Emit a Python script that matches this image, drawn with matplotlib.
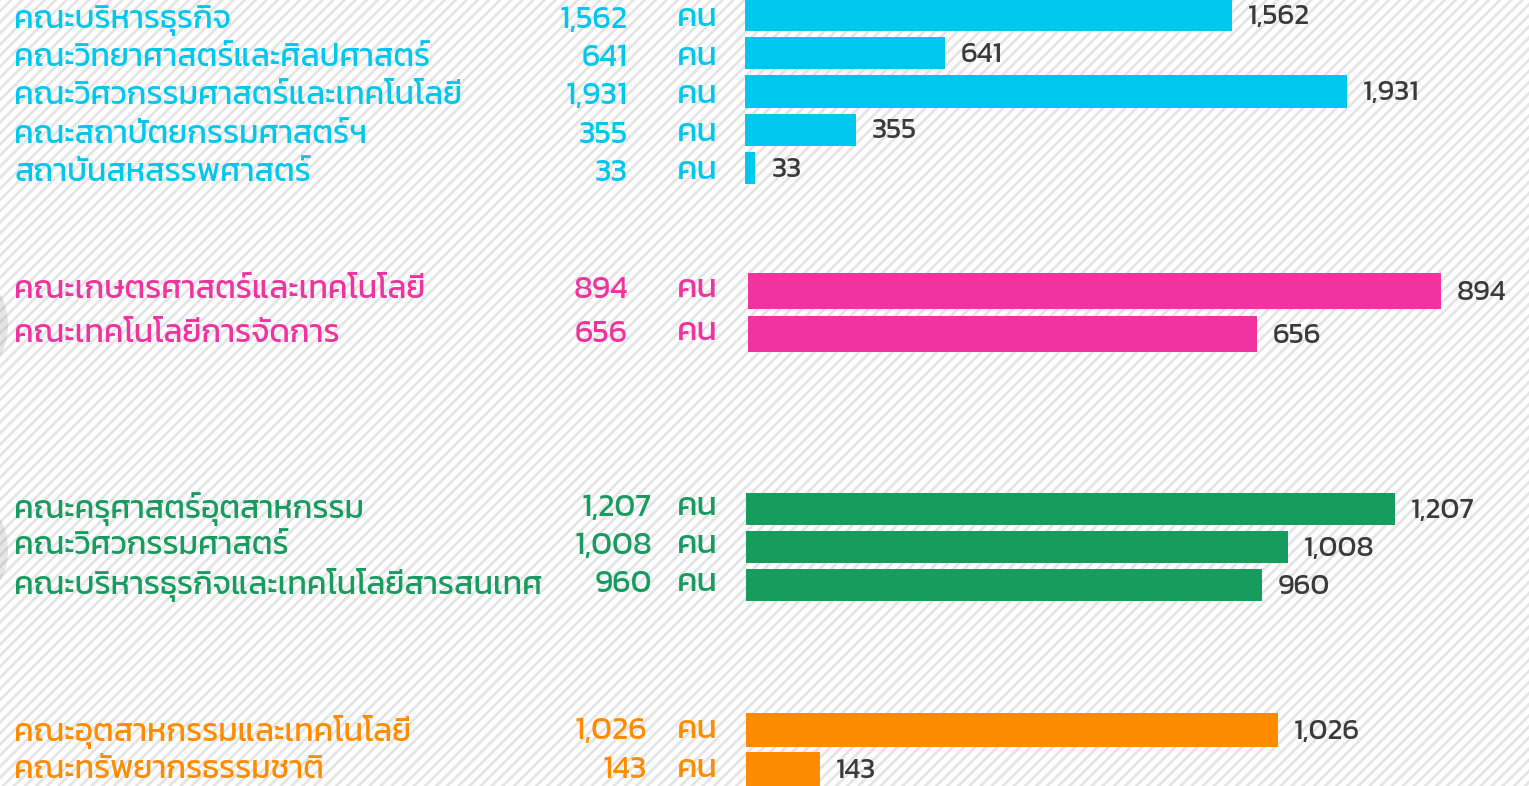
import matplotlib
matplotlib.use('Agg')
import matplotlib.pyplot as plt
import matplotlib.transforms as mtransforms
from matplotlib.patches import Rectangle, Ellipse

plt.rcParams['font.family'] = ['Kanit', 'Noto Sans Thai', 'DejaVu Sans']
plt.rcParams['hatch.linewidth'] = 2.0

# data: four faculty groups, each drawn on its own scale
names_1 = ['คณะบริหารธุรกิจ', 'คณะวิทยาศาสตร์และศิลปศาสตร์', 'คณะวิศวกรรมศาสตร์และเทคโนโลยี',
           'คณะสถาปัตยกรรมศาสตร์ฯ', 'สถาบันสหสรรพศาสตร์']
values_1 = [1562, 641, 1931, 355, 33]
names_2 = ['คณะเกษตรศาสตร์และเทคโนโลยี', 'คณะเทคโนโลยีการจัดการ']
values_2 = [894, 656]
names_3 = ['คณะครุศาสตร์อุตสาหกรรม', 'คณะวิศวกรรมศาสตร์', 'คณะบริหารธุรกิจและเทคโนโลยีสารสนเทศ']
values_3 = [1207, 1008, 960]
names_4 = ['คณะอุตสาหกรรมและเทคโนโลยี', 'คณะทรัพยากรธรรมชาติ']
values_4 = [1026, 143]
unit = 'คน'

W, H = 1529, 786
fig = plt.figure(figsize=(W / 100, H / 100), dpi=100)
fig.patch.set_facecolor('white')

# hatched background
bg = Rectangle((0, 0), 1, 1, transform=fig.transFigure, facecolor='white',
               edgecolor='#e4e4e4', hatch='///', linewidth=0, zorder=-10)
fig.patches.append(bg)
# faint shadows at the left edge
for cy in (325, 550):
    fig.patches.append(Ellipse((-14 / W, 1 - cy / H), 44 / W, 80 / H, transform=fig.transFigure,
                               facecolor='#9a9a9a', alpha=0.25, linewidth=0, zorder=-9))

# (names, values, colour, top px, row spacing px, bar start px, px per unit, bar height, number right edge px, text shift)
groups = [
    (names_1, values_1, '#00c8ec', 15, 38.25, 745, 602 / 1931, 0.84, 628, 0.14),
    (names_2, values_2, '#f0339f', 291, 43, 748, 693 / 894, 0.86, 628, 0.0),
    (names_3, values_3, '#189b5e', 509, 38, 746, 649 / 1207, 0.84, 652, 0.0),
    (names_4, values_4, '#ff8c00', 730, 39, 746, 532 / 1026, 0.85, 647, 0.05),
]

for names, values, color, c0, step, x0, scale, bh, numx, dy in groups:
    n = len(values)
    top = c0 - step / 2
    bottom = c0 + step * (n - 0.5)
    ax = fig.add_axes([0, 1 - bottom / H, 1, (bottom - top) / H])
    ax.patch.set_alpha(0)
    ax.set_xlim(-x0 / scale, (W - x0) / scale)
    ax.set_ylim(n - 0.5, -0.5)
    ax.axis('off')
    rows = list(range(n))
    ax.barh(rows, values, height=bh, color=color, zorder=2)
    trans = mtransforms.blended_transform_factory(fig.transFigure, ax.transData)
    for i, (name, v) in enumerate(zip(names, values)):
        lab = f'{v:,}'
        ax.text(14 / W, i + dy, name, transform=trans, color=color, fontsize=23,
                ha='left', va='center', clip_on=False)
        ax.text(numx / W, i + dy, lab, transform=trans, color=color, fontsize=23,
                ha='right', va='center', clip_on=False)
        ax.text(677 / W, i + dy - 0.04, unit, transform=trans, color=color, fontsize=24,
                ha='left', va='center', clip_on=False)
        ax.text(v + 16 / scale, i + 0.04, lab, color='#3a3a3a', fontsize=21,
                ha='left', va='center', clip_on=False)

fig.savefig('out.png', dpi=100)
plt.close(fig)
